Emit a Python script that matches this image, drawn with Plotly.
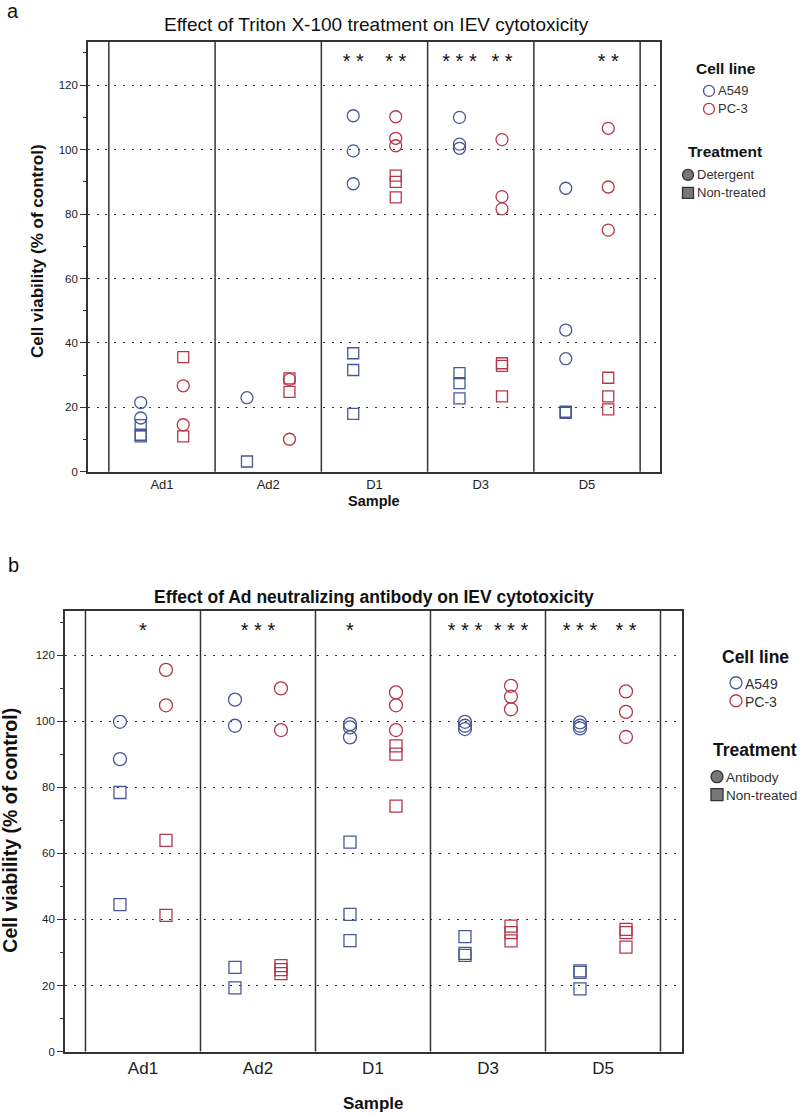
import plotly.graph_objects as go

categories = ["Ad1", "Ad2", "D1", "D3", "D5"]

# Panel a: Triton X-100 (detergent) vs non-treated
a_a549_det = [[21.5, 16.7], [23.0], [110.5, 99.6, 89.4], [110.0, 101.7, 100.4], [88.0, 44.0, 35.1]]
a_a549_non = [[14.5, 11.5, 11.0], [3.2], [36.8, 31.6, 18.0], [30.6, 27.5, 22.8], [18.7, 18.5, 18.3]]
a_pc3_det = [[26.7, 14.6], [28.7, 10.1], [110.2, 103.5, 101.2], [103.1, 85.4, 81.6], [106.6, 88.4, 75.0]]
a_pc3_non = [[35.6, 11.0], [29.0, 24.8], [91.9, 90.0, 85.2], [33.7, 32.9, 23.4], [29.2, 23.4, 19.4]]
a_stars_a549 = ["", "", "**", "***", ""]
a_stars_pc3 = ["", "", "**", "**", "**"]

# Panel b: neutralizing antibody vs non-treated
b_a549_ab = [[99.8, 88.5], [106.5, 98.6], [99.1, 98.1, 95.1], [99.8, 98.6, 97.6], [99.6, 98.6, 97.8]]
b_a549_non = [[78.4, 44.5], [25.5, 19.3], [63.4, 41.5, 33.6], [34.8, 29.7, 29.1], [24.4, 24.0, 19.0]]
b_pc3_ab = [[115.5, 104.8], [109.9, 97.3], [108.7, 104.8, 97.3], [110.7, 107.4, 103.6], [109.0, 102.8, 95.2]]
b_pc3_non = [[63.9, 41.2], [26.0, 24.8, 23.6], [92.5, 90.0, 74.3], [38.0, 36.0, 33.5], [37.0, 36.0, 31.6]]
b_stars_a549 = ["", "", "*", "***", "***"]
b_stars_pc3 = ["", "", "", "***", "**"]
b_stars_both = ["*", "***", "", "", ""]

star_level = 127
y_major = [0, 20, 40, 60, 80, 100, 120]
y_minor = [10, 30, 50, 70, 90, 110, 130]

BLUE = "#4a5794"
RED = "#b5374a"
LINE = "#333333"
FONT = "Liberation Sans, Arial, sans-serif"
W, H = 800, 1115
S = 0.995  # vertical correction of the page capture


def px(x):
    return x / W


def py(y):
    return 1 - (y / S) / H


def flat(groups, off):
    xs, ys = [], []
    for i, vals in enumerate(groups):
        for v in vals:
            xs.append(i + off)
            ys.append(v)
    return xs, ys


fig = go.Figure()
OFF = 0.2


def add_points(groups, off, color, symbol, xa, ya, size):
    xs, ys = flat(groups, off)
    fig.add_trace(go.Scatter(
        x=xs, y=ys, mode="markers", xaxis=xa, yaxis=ya, showlegend=False,
        marker=dict(symbol=symbol, size=size, color=color, line=dict(color=color, width=1.3)),
        hoverinfo="skip"))


def add_stars(labels, off, xa, ya, size):
    xs, ys, ts = [], [], []
    for i, s in enumerate(labels):
        if s:
            xs.append(i + off)
            ys.append(star_level)
            ts.append(" ".join(s))
    fig.add_trace(go.Scatter(x=xs, y=ys, text=ts, mode="text", xaxis=xa, yaxis=ya,
                             showlegend=False, textfont=dict(size=size, color="#111", family=FONT),
                             textposition="middle center", hoverinfo="skip"))


# panel a
add_points(a_a549_det, -OFF, BLUE, "circle-open", "x", "y", 12)
add_points(a_a549_non, -OFF, BLUE, "square-open", "x", "y", 11)
add_points(a_pc3_det, OFF, RED, "circle-open", "x", "y", 12)
add_points(a_pc3_non, OFF, RED, "square-open", "x", "y", 11)
add_stars(a_stars_a549, -OFF, "x", "y", 20)
add_stars(a_stars_pc3, OFF, "x", "y", 20)

# panel b
add_points(b_a549_ab, -OFF, BLUE, "circle-open", "x2", "y2", 13)
add_points(b_a549_non, -OFF, BLUE, "square-open", "x2", "y2", 12)
add_points(b_pc3_ab, OFF, RED, "circle-open", "x2", "y2", 13)
add_points(b_pc3_non, OFF, RED, "square-open", "x2", "y2", 12)
add_stars(b_stars_a549, -OFF, "x2", "y2", 20)
add_stars(b_stars_pc3, OFF, "x2", "y2", 20)
add_stars(b_stars_both, 0, "x2", "y2", 20)


def yax(domain, fs):
    return dict(domain=domain, range=[0, 133.4], tickvals=y_major, ticks="outside", ticklen=6,
                tickcolor=LINE, tickwidth=1.3, showline=True, mirror=True, linecolor=LINE,
                linewidth=1.6, showgrid=True, gridcolor=LINE, gridwidth=1.4, griddash="2px,6.7px",
                zeroline=False, tickfont=dict(size=fs, color="#222", family=FONT),
                minor=dict(tickvals=y_minor, ticks="outside", ticklen=3, tickcolor=LINE, showgrid=False))


def xax(domain, rng, fs, anchor):
    return dict(domain=domain, range=rng, tickvals=list(range(len(categories))), ticktext=categories,
                ticks="", showline=True, mirror=True, linecolor=LINE, linewidth=1.6, showgrid=False,
                zeroline=False, anchor=anchor, tickfont=dict(size=fs, color="#222", family=FONT))


shapes = []
for xa in ["x", "x2"]:
    for k in range(len(categories) + 1):
        shapes.append(dict(type="line", xref=xa, yref=("y domain" if xa == "x" else "y2 domain"),
                           x0=k - 0.5, x1=k - 0.5, y0=0, y1=1, line=dict(color=LINE, width=1.5)))

annotations = []


def text(x, y, t, size, bold=False, xanchor="center", angle=0, color="#111"):
    annotations.append(dict(xref="paper", yref="paper", x=px(x), y=py(y), text=(f"<b>{t}</b>" if bold else t),
                            showarrow=False, xanchor=xanchor, yanchor="middle", textangle=angle,
                            font=dict(size=size, color=color, family=FONT)))


def circle(x, y, r, color, fill=None):
    shapes.append(dict(type="circle", xref="paper", yref="paper", x0=px(x - r), x1=px(x + r),
                       y0=py(y + r), y1=py(y - r), line=dict(color=color, width=1.3),
                       fillcolor=fill if fill else "rgba(0,0,0,0)"))


def square(x, y, r, color, fill):
    shapes.append(dict(type="rect", xref="paper", yref="paper", x0=px(x - r), x1=px(x + r),
                       y0=py(y + r), y1=py(y - r), line=dict(color=color, width=1.3), fillcolor=fill))


# panel labels and titles
text(13, 11, "a", 20)
text(13, 565, "b", 20)
text(376, 25, "Effect of Triton X-100 treatment on IEV cytotoxicity", 19)
text(374, 597, "Effect of Ad neutralizing antibody on IEV cytotoxicity", 17.5, bold=True)
text(38, 252, "Cell viability (% of control)", 17, bold=True, angle=-90)
text(10, 831, "Cell viability (% of control)", 19.5, bold=True, angle=-90)
text(374, 501, "Sample", 14.5, bold=True)
text(373, 1104, "Sample", 17, bold=True)

# legend a
text(726, 69, "Cell line", 15.5, bold=True)
circle(709, 91, 5.5, BLUE)
text(716, 91, "A549", 13, xanchor="left", color="#333")
circle(709, 109, 5.5, RED)
text(716, 109, "PC-3", 13, xanchor="left", color="#333")
text(725, 152, "Treatment", 15.5, bold=True)
circle(688, 175, 5.5, "#333", "#777")
text(695, 175, "Detergent", 13, xanchor="left", color="#333")
square(688, 193, 5.5, "#333", "#777")
text(695, 193, "Non-treated", 13, xanchor="left", color="#333")

# legend b
text(755, 657, "Cell line", 17.5, bold=True)
circle(736, 683, 6, BLUE)
text(743, 684, "A549", 14, xanchor="left", color="#333")
circle(736, 701, 6, RED)
text(743, 702, "PC-3", 14, xanchor="left", color="#333")
text(755, 750, "Treatment", 17.5, bold=True)
circle(717, 777, 6, "#333", "#777")
text(724, 778, "Antibody", 13.5, xanchor="left", color="#333")
square(717, 795, 6, "#333", "#777")
text(724, 796, "Non-treated", 13.5, xanchor="left", color="#333")

fig.update_layout(
    width=W, height=H, margin=dict(l=0, r=0, t=0, b=0),
    paper_bgcolor="white", plot_bgcolor="white", showlegend=False,
    font=dict(family=FONT, color="#222"),
    xaxis=xax([px(88), px(660)], [-0.696, 4.687], 13, "y"),
    yaxis=yax([py(472), py(42)], 11.5),
    xaxis2=xax([px(65), px(682)], [-0.678, 4.687], 17, "y2"),
    yaxis2=yax([py(1052), py(611)], 11.5),
    shapes=shapes, annotations=annotations,
)
fig.update_layout(yaxis2=dict(anchor="x2"), yaxis=dict(anchor="x"))

fig.write_html("out.html", config={"displayModeBar": False},
               post_script="document.body.style.margin='0';document.body.style.overflow='hidden';")
